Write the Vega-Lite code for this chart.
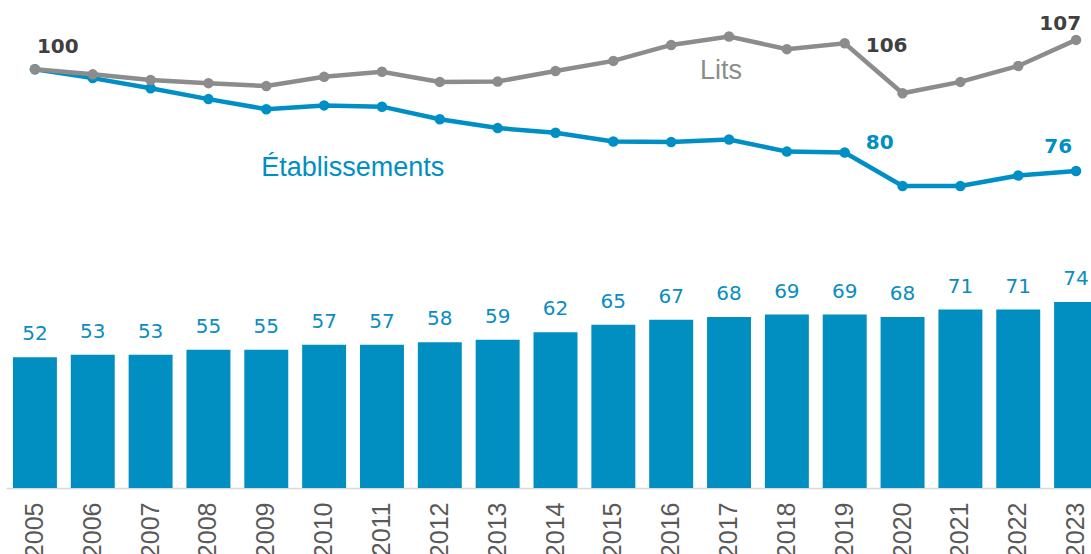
{
  "$schema": "https://vega.github.io/schema/vega-lite/v6.json",
  "width": 1085,
  "height": 488,
  "autosize": "none",
  "padding": {"left": 6, "top": 0, "right": 0, "bottom": 66},
  "background": "white",
  "config": {"view": {"stroke": null}},
  "datasets": {
    "bars": [
      {"year": "2005", "value": 52}, {"year": "2006", "value": 53}, {"year": "2007", "value": 53},
      {"year": "2008", "value": 55}, {"year": "2009", "value": 55}, {"year": "2010", "value": 57},
      {"year": "2011", "value": 57}, {"year": "2012", "value": 58}, {"year": "2013", "value": 59},
      {"year": "2014", "value": 62}, {"year": "2015", "value": 65}, {"year": "2016", "value": 67},
      {"year": "2017", "value": 68}, {"year": "2018", "value": 69}, {"year": "2019", "value": 69},
      {"year": "2020", "value": 68}, {"year": "2021", "value": 71}, {"year": "2022", "value": 71},
      {"year": "2023", "value": 74}
    ],
    "lines": [
      {"year": "2005", "series": "Lits", "value": 100.0},
      {"year": "2006", "series": "Lits", "value": 98.8},
      {"year": "2007", "series": "Lits", "value": 97.45},
      {"year": "2008", "series": "Lits", "value": 96.7},
      {"year": "2009", "series": "Lits", "value": 96.0},
      {"year": "2010", "series": "Lits", "value": 98.2},
      {"year": "2011", "series": "Lits", "value": 99.4},
      {"year": "2012", "series": "Lits", "value": 97.0},
      {"year": "2013", "series": "Lits", "value": 97.1},
      {"year": "2014", "series": "Lits", "value": 99.6},
      {"year": "2015", "series": "Lits", "value": 102.0},
      {"year": "2016", "series": "Lits", "value": 105.8},
      {"year": "2017", "series": "Lits", "value": 107.8},
      {"year": "2018", "series": "Lits", "value": 104.8},
      {"year": "2019", "series": "Lits", "value": 106.2},
      {"year": "2020", "series": "Lits", "value": 94.3},
      {"year": "2021", "series": "Lits", "value": 97.0},
      {"year": "2022", "series": "Lits", "value": 100.8},
      {"year": "2023", "series": "Lits", "value": 107.0},
      {"year": "2005", "series": "Établissements", "value": 100.0},
      {"year": "2006", "series": "Établissements", "value": 97.9},
      {"year": "2007", "series": "Établissements", "value": 95.5},
      {"year": "2008", "series": "Établissements", "value": 92.9},
      {"year": "2009", "series": "Établissements", "value": 90.5},
      {"year": "2010", "series": "Établissements", "value": 91.4},
      {"year": "2011", "series": "Établissements", "value": 91.1},
      {"year": "2012", "series": "Établissements", "value": 88.1},
      {"year": "2013", "series": "Établissements", "value": 86.0},
      {"year": "2014", "series": "Établissements", "value": 84.9},
      {"year": "2015", "series": "Établissements", "value": 82.8},
      {"year": "2016", "series": "Établissements", "value": 82.7},
      {"year": "2017", "series": "Établissements", "value": 83.3},
      {"year": "2018", "series": "Établissements", "value": 80.4},
      {"year": "2019", "series": "Établissements", "value": 80.2},
      {"year": "2020", "series": "Établissements", "value": 72.2},
      {"year": "2021", "series": "Établissements", "value": 72.2},
      {"year": "2022", "series": "Établissements", "value": 74.7},
      {"year": "2023", "series": "Établissements", "value": 75.8}
    ]
  },
  "layer": [
    {
      "data": {"name": "bars"},
      "encoding": {
        "x": {
          "field": "year", "type": "ordinal",
          "scale": {"range": [0, 1099], "paddingInner": 0.24, "paddingOuter": 0.12},
          "axis": {
            "title": null, "labelAngle": 270, "ticks": false, "tickSize": 0,
            "labelPadding": 14, "labelFont": "Liberation Sans", "labelFontSize": 25,
            "labelColor": "#595959", "domainColor": "#d9d9d9", "domainWidth": 1.5,
            "labelOverlap": false, "grid": false
          }
        },
        "y": {"field": "value", "type": "quantitative", "scale": {"domain": [0, 194.2], "nice": false, "zero": true}, "axis": null}
      },
      "layer": [
        {"mark": {"type": "bar", "color": "#008FC0"}},
        {"mark": {"type": "text", "color": "#0A8DC0", "font": "DejaVu Sans", "fontSize": 20, "baseline": "alphabetic", "align": "center", "dy": -17},
         "encoding": {"text": {"field": "value", "type": "quantitative", "format": ".0f"}}}
      ]
    },
    {
      "data": {"name": "lines"},
      "encoding": {
        "x": {
          "field": "year", "type": "ordinal",
          "scale": {"range": [0, 1099], "paddingInner": 0.24, "paddingOuter": 0.12},
          "axis": {
            "title": null, "labelAngle": 270, "ticks": false, "tickSize": 0,
            "labelPadding": 14, "labelFont": "Liberation Sans", "labelFontSize": 25,
            "labelColor": "#595959", "domainColor": "#d9d9d9", "domainWidth": 1.5,
            "labelOverlap": false, "grid": false
          }
        },
        "y": {"field": "value", "type": "quantitative", "scale": {"domain": [0.3, 116.5], "nice": false, "zero": false}, "axis": null}
      },
      "layer": [
        {"transform": [{"filter": "datum.series === 'Établissements'"}],
         "mark": {"type": "line", "color": "#008FC4", "strokeWidth": 4.5, "point": {"filled": true, "size": 110, "color": "#008FC4"}}},
        {"transform": [{"filter": "datum.series === 'Lits'"}],
         "mark": {"type": "line", "color": "#8C8C8C", "strokeWidth": 4.5, "point": {"filled": true, "size": 110, "color": "#8C8C8C"}}},
        {"transform": [{"filter": "datum.series === 'Lits' && datum.year === '2005'"}],
         "mark": {"type": "text", "font": "DejaVu Sans", "fontWeight": "bold", "fontSize": 20, "color": "#404040", "align": "left", "baseline": "alphabetic", "dx": 2, "dy": -16},
         "encoding": {"text": {"field": "value", "type": "quantitative", "format": ".0f"}}},
        {"transform": [{"filter": "datum.series === 'Lits' && datum.year === '2019'"}],
         "mark": {"type": "text", "font": "DejaVu Sans", "fontWeight": "bold", "fontSize": 20, "color": "#404040", "align": "left", "baseline": "alphabetic", "dx": 21, "dy": 9},
         "encoding": {"text": {"field": "value", "type": "quantitative", "format": ".0f"}}},
        {"transform": [{"filter": "datum.series === 'Lits' && datum.year === '2023'"}],
         "mark": {"type": "text", "font": "DejaVu Sans", "fontWeight": "bold", "fontSize": 20, "color": "#404040", "align": "right", "baseline": "alphabetic", "dx": 5, "dy": -10},
         "encoding": {"text": {"field": "value", "type": "quantitative", "format": ".0f"}}},
        {"transform": [{"filter": "datum.series === 'Établissements' && datum.year === '2019'"}],
         "mark": {"type": "text", "font": "DejaVu Sans", "fontWeight": "bold", "fontSize": 20, "color": "#008FC4", "align": "left", "baseline": "alphabetic", "dx": 21, "dy": -3},
         "encoding": {"text": {"field": "value", "type": "quantitative", "format": ".0f"}}},
        {"transform": [{"filter": "datum.series === 'Établissements' && datum.year === '2023'"}],
         "mark": {"type": "text", "font": "DejaVu Sans", "fontWeight": "bold", "fontSize": 20, "color": "#008FC4", "align": "right", "baseline": "alphabetic", "dx": -4, "dy": -18},
         "encoding": {"text": {"field": "value", "type": "quantitative", "format": ".0f"}}},
        {"transform": [{"filter": "datum.series === 'Lits' && datum.year === '2017'"}],
         "mark": {"type": "text", "font": "Liberation Sans", "fontSize": 27, "color": "#8C8C8C", "align": "center", "baseline": "alphabetic", "dx": -8, "dy": 42},
         "encoding": {"text": {"field": "series"}}},
        {"transform": [{"filter": "datum.series === 'Établissements' && datum.year === '2010'"}],
         "mark": {"type": "text", "font": "Liberation Sans", "fontSize": 27, "color": "#008FC4", "align": "left", "baseline": "alphabetic", "dx": -63, "dy": 71},
         "encoding": {"text": {"field": "series"}}}
      ]
    }
  ],
  "resolve": {"scale": {"y": "independent"}}
}
